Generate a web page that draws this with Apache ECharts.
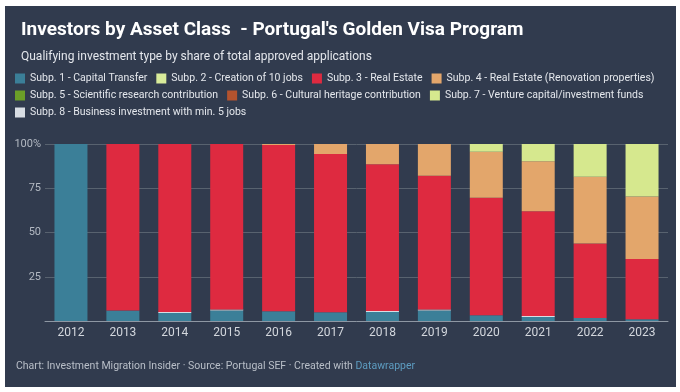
<!DOCTYPE html>
<html>
<head>
<meta charset="utf-8">
<script src="https://cdn.jsdelivr.net/npm/echarts@6/dist/echarts.min.js"></script>
<style>
html,body{margin:0;padding:0;background:#ffffff;}
#chart{width:680px;height:392px;}
</style>
</head>
<body>
<div id="chart"></div>
<script>
const years = ['2012','2013','2014','2015','2016','2017','2018','2019','2020','2021','2022','2023'];
const names = [
  'Subp. 1 - Capital Transfer',
  'Subp. 2 - Creation of 10 jobs',
  'Subp. 3 - Real Estate',
  'Subp. 4 - Real Estate (Renovation properties)',
  'Subp. 5 - Scientific research contribution',
  'Subp. 6 - Cultural heritage contribution',
  'Subp. 7 - Venture capital/investment funds',
  'Subp. 8 - Business investment with min. 5 jobs'
];
const sub1 = [100, 6, 4.5, 5.9, 5.5, 5, 5.1, 6, 3.2, 2.3, 1.7, 1];
const sub2 = [0, 0, 0, 0, 0, 0, 0, 0, 0, 0, 0, 0];
const sub3 = [0, 94, 94.9, 93.5, 93.9, 89.3, 82.9, 75.5, 66.4, 59.2, 42.1, 34];
const sub4 = [0, 0, 0, 0, 0.6, 5.7, 11.5, 18, 26, 28.2, 37.7, 35.4];
const sub5 = [0, 0, 0, 0, 0, 0, 0, 0, 0, 0, 0, 0];
const sub6 = [0, 0, 0, 0, 0, 0, 0, 0, 0, 0, 0, 0];
const sub7 = [0, 0, 0, 0, 0, 0, 0, 0, 4.4, 9.8, 18.5, 29.6];
const sub8 = [0, 0, 0.6, 0.6, 0, 0, 0.5, 0.5, 0, 0.5, 0, 0];
const yTicks = {0: '', 25: '25', 50: '50', 75: '75', 100: '100%'};

const colors = {
  s1: '#3b7f98', s2: '#d8eb9a', s3: '#de2a40', s4: '#e3a66b',
  s5: '#6b9f28', s6: '#b4532e', s7: '#d6e88e', s8: '#d8dde3'
};
const FONT = 'Roboto';
const BG = '#313b4e';

function bar(name, data, color) {
  return {
    name: name, type: 'bar', stack: 'total', data: data,
    barWidth: 33, itemStyle: {color: color},
    emphasis: {disabled: true}
  };
}
// stacking order (bottom to top)
const series = [
  bar(names[0], sub1, colors.s1),
  bar(names[7], sub8, colors.s8),
  bar(names[1], sub2, colors.s2),
  bar(names[2], sub3, colors.s3),
  bar(names[3], sub4, colors.s4),
  bar(names[4], sub5, colors.s5),
  bar(names[5], sub6, colors.s6),
  bar(names[6], sub7, colors.s7)
];

function legend(top, data) {
  return {
    top: top, left: 15, width: 660, itemWidth: 10, itemHeight: 10, itemGap: 9,
    icon: 'rect', selectedMode: false, data: data, padding: 0,
    textStyle: {color: '#e4e7ec', fontSize: 10.5, fontFamily: FONT}
  };
}

const chart = echarts.init(document.getElementById('chart'));
chart.setOption({
  animation: false,
  backgroundColor: '#ffffff',
  textStyle: {fontFamily: FONT},
  graphic: [
    {type: 'rect', z: -100, silent: true, shape: {x: 5, y: 6, width: 671, height: 381}, style: {fill: BG}},
    {type: 'text', left: 16, top: 361, silent: true,
      style: {
        text: '{a|Chart: Investment Migration Insider · Source: Portugal SEF · Created with }{b|Datawrapper}',
        rich: {
          a: {fill: '#b9bfc8', fontSize: 10.5, fontFamily: FONT},
          b: {fill: '#5d9cc0', fontSize: 10.5, fontFamily: FONT}
        }
      }}
  ],
  title: [
    {text: "Investors by Asset Class  - Portugal's Golden Visa Program", left: 16, top: 16,
      textStyle: {color: '#ffffff', fontSize: 19, fontWeight: 'bold', fontFamily: FONT}},
    {text: 'Qualifying investment type by share of total approved applications', left: 16, top: 46,
      textStyle: {color: '#e4e7ec', fontSize: 12, fontWeight: 'normal', fontFamily: FONT}}
  ],
  legend: [
    legend(73, [names[0], names[1], names[2], names[3]]),
    legend(90, [names[4], names[5], names[6]]),
    legend(107, [names[7]])
  ],
  grid: {left: 45, right: 12, top: 144, bottom: 71},
  xAxis: {
    type: 'category', data: years,
    axisLine: {lineStyle: {color: '#8e97a3', width: 1}},
    axisTick: {show: false},
    axisLabel: {color: '#d3d7dd', fontSize: 12, margin: 6, fontFamily: FONT}
  },
  yAxis: {
    type: 'value', min: 0, max: 100, interval: 25,
    axisLine: {show: false}, axisTick: {show: false},
    splitLine: {lineStyle: {color: '#58626f', width: 1}},
    axisLabel: {color: '#b3b9c2', fontSize: 11, margin: 4, fontFamily: FONT,
      formatter: v => yTicks[v] !== undefined ? yTicks[v] : ''}
  },
  series: series
});
</script>
</body>
</html>
